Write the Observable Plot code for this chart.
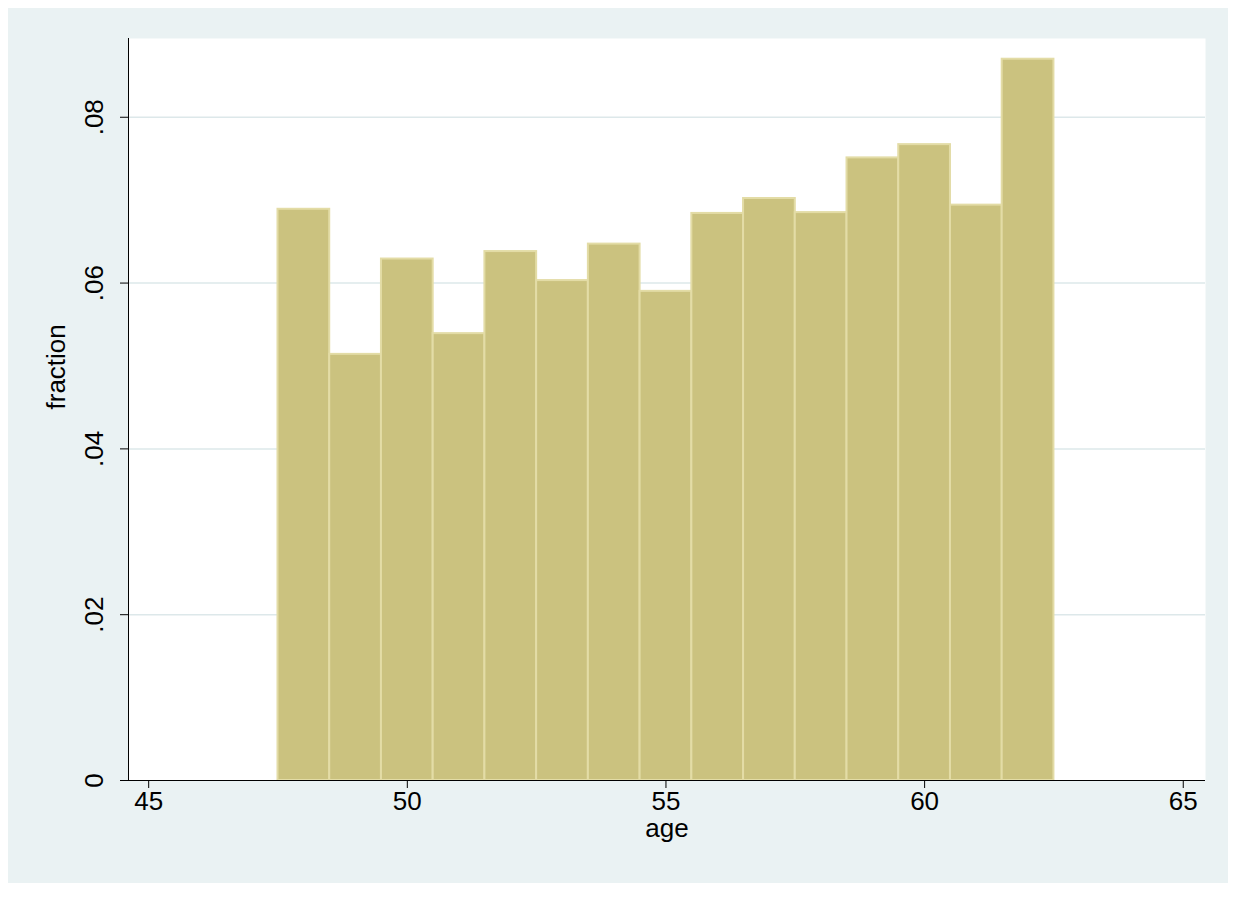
<!DOCTYPE html>
<html><head>
<script src="https://cdn.jsdelivr.net/npm/d3@7"></script>
<script src="https://cdn.jsdelivr.net/npm/@observablehq/plot@0.6"></script>
<style>
body{margin:0;background:#fff;font-family:"Liberation Sans",Arial,sans-serif}
#chart{position:absolute;left:8px;top:8px;width:1220px;height:875px;background:#eaf2f3}
</style></head><body><div id="chart"></div>
<script>
const ages = [48,49,50,51,52,53,54,55,56,57,58,59,60,61,62]
const fractions = [0.0689,0.0514,0.0629,0.0539,0.0638,0.0603,0.0647,0.0590,0.0684,0.0702,0.0685,0.0751,0.0767,0.0694,0.0870]
const xTicks = [45,50,55,60,65]
const yTicks = [0,0.02,0.04,0.06,0.08]

const data = ages.map((a,i) => ({x1: a-0.5, x2: a+0.5, y: fractions[i]}))
const fmt = v => v === 0 ? "0" : d3.format(".2f")(v).replace(/^0/, "")
const xMin = 44.61

const chart = Plot.plot({
  width: 1220, height: 875,
  marginLeft: 120, marginRight: 23, marginTop: 30, marginBottom: 103,
  style: {background: "transparent", fontFamily: "Liberation Sans, Arial, sans-serif", fontSize: "26px"},
  x: {domain: [xMin, 65.43]},
  y: {domain: [0, 0.0895]},
  marks: [
    Plot.frame({fill: "white", stroke: "none"}),
    Plot.ruleY(yTicks.slice(1), {stroke: "#dde8ea", strokeWidth: 1.5}),
    Plot.rectY(data, {x1: "x1", x2: "x2", y: "y", fill: "#cbc27f", stroke: "#e3dca6", strokeWidth: 2}),
    Plot.axisX({ticks: xTicks, tickSize: 8, tickPadding: 3, fontSize: 26, label: null}),
    Plot.text(["age"], {frameAnchor: "bottom", text: d => d, dy: 56, fontSize: 26, fill: "black"}),
    Plot.axisY({ticks: yTicks, tickSize: 8, tickFormat: () => "", label: null}),
    Plot.text(yTicks, {x: xMin, y: d => d, text: fmt, rotate: -90, dx: -34, fontSize: 26, fill: "black"}),
    Plot.text(["fraction"], {frameAnchor: "left", text: d => d, rotate: -90, dx: -72, fontSize: 26, fill: "black"}),
    Plot.ruleX([xMin], {stroke: "black"}),
    Plot.ruleY([0], {stroke: "black"})
  ]
})
document.getElementById("chart").append(chart)
</script></body></html>
